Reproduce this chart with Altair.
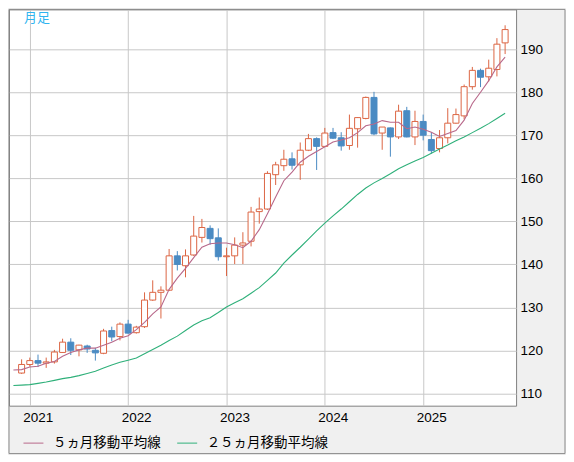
import altair as alt
import pandas as pd

# ---------------- data ----------------
months = [f"{y}-{m:02d}" for y in range(2020, 2026) for m in range(1, 13)]
months = months[months.index("2020-12"):months.index("2025-11") + 1]

open_ = [114.7, 116.7, 117.6, 117.0, 117.3, 119.5, 121.9, 120.1, 121.0, 120.0,
         119.3, 124.6, 123.2, 126.1, 124.1, 125.5, 131.7, 133.5, 134.0, 142.0,
         139.7, 142.2, 146.3, 148.4, 146.2, 141.8, 142.0, 144.5, 145.4, 152.3,
         152.9, 160.9, 163.0, 164.6, 163.2, 166.6, 169.3, 167.5, 170.7, 169.5,
         167.7, 171.6, 174.0, 178.9, 170.6, 171.8, 169.7, 175.8, 169.7, 173.3,
         169.1, 167.0, 169.5, 172.9, 174.6, 181.4, 185.2, 183.7, 185.4, 191.6]
high = [117.9, 118.3, 119.0, 118.3, 120.1, 122.7, 122.8, 121.3, 121.3, 120.6,
        125.0, 125.5, 126.5, 127.1, 125.7, 133.5, 136.3, 134.9, 143.6, 143.1,
        143.5, 151.3, 150.6, 149.1, 148.4, 143.9, 146.3, 147.5, 153.4, 155.6,
        161.7, 163.9, 166.7, 166.1, 168.4, 170.4, 169.6, 171.8, 171.8, 170.8,
        174.9, 174.3, 179.1, 180.2, 172.0, 171.9, 177.2, 176.7, 175.8, 174.9,
        170.8, 171.3, 176.4, 176.3, 181.9, 186.0, 185.6, 187.7, 192.7, 195.7]
low = [114.5, 116.2, 116.1, 115.9, 116.9, 119.4, 118.9, 118.6, 119.4, 117.6,
       119.1, 122.1, 122.3, 123.9, 123.9, 125.2, 131.5, 127.4, 133.8, 138.6,
       137.0, 142.0, 145.1, 144.6, 140.9, 137.3, 140.1, 140.1, 144.2, 149.5,
       152.7, 158.5, 161.8, 162.1, 159.7, 166.4, 162.0, 167.3, 169.2, 166.5,
       166.7, 167.2, 173.8, 170.1, 166.7, 165.1, 169.2, 169.6, 167.8, 168.9,
       165.8, 166.1, 168.2, 172.8, 173.8, 180.7, 181.3, 182.6, 183.8, 189.0]
close = [116.7, 117.6, 117.0, 117.3, 119.6, 121.9, 120.0, 121.2, 120.3, 119.4,
         124.5, 123.1, 126.1, 124.0, 125.4, 131.7, 133.5, 134.0, 142.0, 140.0,
         142.0, 146.6, 148.6, 146.0, 141.8, 142.0, 144.5, 145.0, 152.2, 152.9,
         161.2, 163.2, 164.5, 163.1, 166.6, 169.3, 167.5, 170.6, 169.4, 167.6,
         171.7, 174.2, 178.9, 170.4, 172.0, 169.7, 175.7, 169.7, 173.3, 170.1,
         166.5, 169.5, 172.9, 174.9, 181.4, 185.2, 183.6, 185.7, 191.3, 194.7]

# moving averages (from 2020-11, the first point lies at the left edge)
ma_months = ["2020-11"] + months
ma5 = [115.4, 115.5, 116.1, 116.3, 117.0, 117.4, 118.6, 119.5, 120.1, 120.5,
       120.5, 121.2, 121.9, 122.8, 123.4, 124.8, 126.5, 128.5, 130.1, 134.2,
       136.8, 139.1, 141.6, 144.0, 144.8, 145.0, 145.0, 144.6, 143.9, 145.4,
       148.1, 151.8, 155.7, 159.5, 161.5, 163.8, 165.2, 166.3, 167.4, 168.5,
       169.0, 169.5, 170.7, 172.3, 172.7, 173.5, 173.1, 173.1, 171.6, 172.0,
       171.5, 170.8, 169.8, 170.5, 171.2, 173.6, 177.5, 180.1, 182.8, 186.0,
       188.3]
ma25 = [111.8, 111.9, 112.0, 112.3, 112.6, 113.0, 113.4, 113.7, 114.1, 114.6,
        115.1, 115.9, 116.6, 117.2, 117.7, 118.2, 119.2, 120.2, 121.2, 122.3,
        123.3, 124.6, 125.9, 126.9, 127.6, 128.8, 130.1, 131.1, 132.0, 133.3,
        134.6, 136.3, 138.0, 140.3, 142.2, 144.0, 145.9, 147.8, 149.6, 151.3,
        152.9, 154.6, 156.3, 157.8, 159.0, 160.0, 161.1, 162.3, 163.2, 164.1,
        164.9, 165.9, 166.9, 167.8, 168.8, 169.7, 170.7, 171.7, 172.8, 174.0,
        175.2]

series_names = ["５ヵ月移動平均線", "２５ヵ月移動平均線"]
series_colors = ["#b8688a", "#2fb07a"]
y_ticks = [110, 120, 130, 140, 150, 160, 170, 180, 190]
year_ticks = [i for i, m in enumerate(months) if m.endswith("-01")]
year_labels = [m[:4] for m in months if m.endswith("-01")]
chart_label = "月足"

UP = "#dc6543"
DOWN = "#4a8bc3"
W, H = 508, 397

# ---------------- tables ----------------
df = pd.DataFrame({"i": list(range(len(months))), "month": months,
                   "open": open_, "high": high, "low": low, "close": close})
ma_rows = []
for k, m in enumerate(ma_months):
    ma_rows.append({"i": k - 1, "month": m, "series": series_names[0], "value": ma5[k]})
    ma_rows.append({"i": k - 1, "month": m, "series": series_names[1], "value": ma25[k]})
ma_df = pd.DataFrame(ma_rows)

label_expr = ""
for t, lab in zip(year_ticks, year_labels):
    label_expr += f"datum.value == {t} ? '{lab}' : "
label_expr += "''"

xscale = alt.Scale(domain=[-0.93, 59.73], nice=False, zero=False)
yscale = alt.Scale(domain=[107.1, 199.4], nice=False, zero=False)
xaxis = alt.Axis(values=year_ticks, labelExpr=label_expr, grid=True, ticks=False,
                 domain=False, title=None, labelOffset=8, labelPadding=5,
                 labelFontSize=13.5, labelFont="Liberation Sans", labelColor="#000",
                 gridColor="#c8c8c8", labelFlush=False)
yaxis = alt.Axis(values=y_ticks, orient="right", grid=True, ticks=False, domain=False,
                 title=None, labelPadding=4, labelFontSize=13.5, labelFont="Liberation Sans",
                 labelColor="#000", gridColor="#c8c8c8")

up_cond = "datum.close >= datum.open"
base = alt.Chart(df).encode(x=alt.X("i:Q", scale=xscale, axis=xaxis))

wicks = base.mark_rule(strokeWidth=1).encode(
    y=alt.Y("low:Q", scale=yscale, axis=yaxis),
    y2="high:Q",
    color=alt.condition(up_cond, alt.value(UP), alt.value(DOWN)),
)
bodies = base.mark_bar(width=6, strokeWidth=1).encode(
    y=alt.Y("open:Q", scale=yscale),
    y2="close:Q",
    fill=alt.condition(up_cond, alt.value("white"), alt.value(DOWN)),
    stroke=alt.condition(up_cond, alt.value(UP), alt.value(DOWN)),
)
lines = alt.Chart(ma_df).mark_line(strokeWidth=1.1, clip=True).encode(
    x=alt.X("i:Q", scale=xscale),
    y=alt.Y("value:Q", scale=yscale),
    color=alt.Color("series:N",
                    scale=alt.Scale(domain=series_names, range=series_colors),
                    legend=alt.Legend(orient="none", legendX=14, legendY=H + 27,
                                      direction="horizontal", title=None,
                                      symbolType="stroke", symbolSize=400,
                                      symbolStrokeWidth=1, labelFontSize=13.5,
                                      labelFont="Noto Sans CJK JP", labelColor="#000",
                                      labelOffset=9, columnPadding=14, padding=0)),
    order="i:Q",
)
label = alt.Chart(pd.DataFrame({"t": [chart_label]})).mark_text(
    align="left", baseline="top", fontSize=13, font="Noto Sans CJK JP", color="#2fb4f0"
).encode(x=alt.value(15), y=alt.value(3), text="t:N")
frame = alt.Chart(pd.DataFrame({"a": [0]})).mark_rect(
    fillOpacity=0, stroke="#8a8a8a", strokeWidth=1, clip=False
).encode(x=alt.value(0), x2=alt.value(W + 49), y=alt.value(0), y2=alt.value(H + 48))

chart = alt.layer(wicks, bodies, lines, label, frame).properties(
    width=W, height=H, padding=0, background="#f0f0f0"
).configure_view(fill="white", stroke="#808080", strokeWidth=1)

chart.save("out.html", embed_options={"renderer": "svg", "actions": False})
